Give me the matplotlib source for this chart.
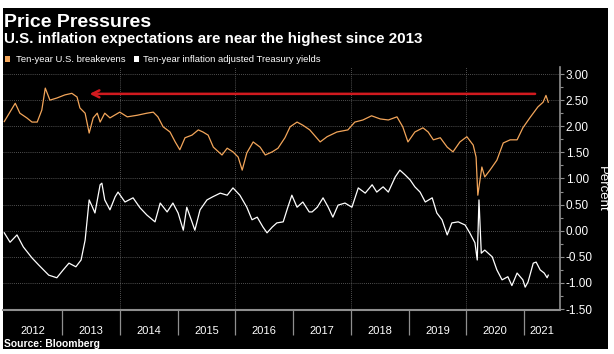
import matplotlib
matplotlib.use("Agg")
import matplotlib.pyplot as plt
from matplotlib.patches import Rectangle
from matplotlib.ticker import MultipleLocator, FixedLocator, NullFormatter
import matplotlib.transforms as mtransforms

plt.rcParams['font.family'] = ['Liberation Sans', 'DejaVu Sans']

# Ten-year U.S. breakevens (decimal year, percent)
be_dates = [2012.00, 2012.19, 2012.27, 2012.39, 2012.48, 2012.57, 2012.65, 2012.71, 2012.79, 2012.91,
            2013.05, 2013.17, 2013.26, 2013.31, 2013.40, 2013.47, 2013.54, 2013.61, 2013.66, 2013.74,
            2013.83, 2014.00, 2014.13, 2014.30, 2014.47, 2014.58, 2014.66, 2014.75, 2014.87, 2014.96,
            2015.04, 2015.13, 2015.25, 2015.36, 2015.44, 2015.53, 2015.62, 2015.77, 2015.86, 2015.96,
            2016.05, 2016.12, 2016.20, 2016.31, 2016.43, 2016.52, 2016.64, 2016.74, 2016.86, 2016.95,
            2017.07, 2017.17, 2017.29, 2017.47, 2017.59, 2017.76, 2017.95, 2018.07, 2018.21, 2018.36,
            2018.51, 2018.65, 2018.80, 2018.90, 2018.99, 2019.11, 2019.25, 2019.34, 2019.43, 2019.55,
            2019.67, 2019.77, 2019.89, 2020.01, 2020.12, 2020.17, 2020.20, 2020.27, 2020.32, 2020.41,
            2020.53, 2020.64, 2020.76, 2020.88, 2020.98, 2021.10, 2021.24, 2021.33, 2021.38, 2021.42]
be_vals = [2.09, 2.44, 2.25, 2.16, 2.08, 2.08, 2.31, 2.73, 2.50, 2.54,
           2.60, 2.63, 2.56, 2.35, 2.25, 1.87, 2.16, 2.25, 2.08, 2.25,
           2.16, 2.27, 2.18, 2.21, 2.25, 2.27, 2.18, 1.99, 1.89, 1.70,
           1.55, 1.78, 1.83, 1.93, 1.89, 1.83, 1.60, 1.45, 1.58, 1.51,
           1.41, 1.16, 1.49, 1.70, 1.60, 1.45, 1.51, 1.58, 1.78, 1.99,
           2.08, 2.02, 1.93, 1.70, 1.80, 1.89, 1.93, 2.08, 2.12, 2.20,
           2.14, 2.12, 2.18, 1.99, 1.70, 1.89, 1.97, 1.89, 1.74, 1.78,
           1.60, 1.51, 1.70, 1.80, 1.64, 1.41, 0.68, 1.22, 1.03, 1.16,
           1.35, 1.68, 1.74, 1.74, 1.97, 2.16, 2.37, 2.46, 2.59, 2.46]

# Ten-year inflation adjusted Treasury yields
tips_dates = [2012.00, 2012.10, 2012.22, 2012.33, 2012.48, 2012.60, 2012.77, 2012.91, 2013.02, 2013.12,
              2013.24, 2013.33, 2013.40, 2013.47, 2013.52, 2013.57, 2013.66, 2013.69, 2013.74, 2013.83,
              2013.92, 2013.97, 2014.09, 2014.23, 2014.35, 2014.47, 2014.61, 2014.70, 2014.82, 2014.92,
              2015.01, 2015.10, 2015.16, 2015.25, 2015.30, 2015.39, 2015.51, 2015.61, 2015.74, 2015.86,
              2015.96, 2016.08, 2016.20, 2016.29, 2016.38, 2016.48, 2016.55, 2016.64, 2016.72, 2016.83,
              2016.91, 2016.98, 2017.07, 2017.17, 2017.28, 2017.33, 2017.42, 2017.52, 2017.61, 2017.69,
              2017.78, 2017.90, 2018.02, 2018.13, 2018.25, 2018.37, 2018.45, 2018.56, 2018.65, 2018.77,
              2018.85, 2018.94, 2019.03, 2019.11, 2019.20, 2019.29, 2019.41, 2019.49, 2019.58, 2019.67,
              2019.75, 2019.86, 2019.98, 2020.06, 2020.15, 2020.19, 2020.22, 2020.26, 2020.32, 2020.45,
              2020.53, 2020.62, 2020.72, 2020.79, 2020.88, 2020.98, 2021.02, 2021.07, 2021.16, 2021.21,
              2021.28, 2021.35, 2021.40, 2021.42]
tips_vals = [-0.04, -0.22, -0.08, -0.31, -0.52, -0.66, -0.85, -0.90, -0.75, -0.62,
             -0.69, -0.56, -0.18, 0.59, 0.47, 0.34, 0.88, 0.91, 0.59, 0.40,
             0.65, 0.74, 0.55, 0.63, 0.44, 0.30, 0.17, 0.53, 0.36, 0.53,
             0.34, 0.01, 0.45, 0.17, 0.01, 0.40, 0.59, 0.65, 0.72, 0.68,
             0.82, 0.68, 0.45, 0.21, 0.26, 0.07, -0.04, 0.07, 0.15, 0.17,
             0.45, 0.68, 0.45, 0.55, 0.36, 0.36, 0.45, 0.63, 0.45, 0.26,
             0.49, 0.53, 0.45, 0.82, 0.72, 0.88, 0.74, 0.84, 0.74, 1.03,
             1.16, 1.07, 0.97, 0.84, 0.74, 0.55, 0.63, 0.34, 0.21, -0.08,
             0.15, 0.17, 0.11, -0.04, -0.23, -0.56, 0.59, -0.43, -0.37, -0.50,
             -0.75, -0.94, -0.88, -1.05, -0.81, -0.94, -1.08, -0.98, -0.62, -0.60,
             -0.75, -0.81, -0.90, -0.85]

years = list(range(2012, 2022))
arrow_level = 2.62
arrow_start = 2021.24
arrow_end = 2013.43

ORANGE = "#f2a55a"
GRID = "#6b6b6b"
AXIS = "#8f8f8f"

fig = plt.figure(figsize=(6.14, 3.54), dpi=100, facecolor="white")
bg = Rectangle((3 / 614, 1 - 349 / 354), 605 / 614, 341 / 354,
               transform=fig.transFigure, facecolor="black", edgecolor="none", zorder=-10)
fig.patches.append(bg)

ax = fig.add_axes([3 / 614, 1 - 310 / 354, 557 / 614, 243 / 354], zorder=1)
ax.set_facecolor("black")
ax.set_xlim(2011.978, 2021.623)
ax.set_ylim(-1.517, 3.134)

ax.plot(be_dates, be_vals, color=ORANGE, lw=0.9, zorder=3)
ax.plot(tips_dates, tips_vals, color="white", lw=0.9, zorder=3)

ax.annotate("", xy=(arrow_end, arrow_level), xytext=(arrow_start, arrow_level),
            arrowprops=dict(arrowstyle="->,head_length=0.5,head_width=0.25",
                            color="#d11a1f", lw=1.8), zorder=4)

# grid
for v in [-1.0, -0.5, 0.0, 0.5, 1.0, 1.5, 2.0, 2.5, 3.0]:
    ax.axhline(v, color=GRID, lw=0.6, ls=(0, (1, 1.5)), zorder=1)
for yr in [2014, 2016, 2018, 2020]:
    ax.axvline(yr, color=GRID, lw=0.6, ls=(0, (1, 1.5)), zorder=1)

# spines
for s in ["top", "left"]:
    ax.spines[s].set_visible(False)
ax.spines["bottom"].set_color(AXIS)
ax.spines["bottom"].set_linewidth(1.5)
ax.spines["right"].set_color(AXIS)
ax.spines["right"].set_linewidth(1.2)

# y axis on the right
ax.yaxis.tick_right()
ax.yaxis.set_major_locator(MultipleLocator(0.5))
ax.yaxis.set_minor_locator(MultipleLocator(0.25))
ax.yaxis.set_major_formatter(plt.FuncFormatter(lambda v, p: "%.2f" % v))
ax.tick_params(axis="y", which="major", length=3, width=0.8, color=AXIS,
               labelcolor="white", labelsize=8.5, pad=1)
ax.tick_params(axis="y", which="minor", length=2, width=0.8, color=AXIS)
ax.set_ylabel("Percent", color="white", fontsize=9.5, rotation=270, labelpad=11)
ax.yaxis.set_label_position("right")

# x axis: separators at year boundaries, labels centered in each year
ax.xaxis.set_major_locator(FixedLocator(years[1:]))
ax.xaxis.set_major_formatter(NullFormatter())
ax.tick_params(axis="x", which="major", length=18, width=0.9, color=AXIS)
ax.tick_params(axis="x", which="minor", length=0)
x0, x1 = ax.get_xlim()
trans = mtransforms.blended_transform_factory(ax.transData, ax.transAxes)
for yr in years:
    lo = max(yr, x0)
    hi = min(yr + 1, x1)
    ax.text((lo + hi) / 2, -0.088, str(yr), transform=trans, ha="center", va="center",
            color="white", fontsize=8)

# titles and legend
fig.text(4 / 614, 1 - 27 / 354, "Price Pressures", color="white", fontsize=14,
         fontweight="bold", va="baseline")
fig.text(4 / 614, 1 - 43 / 354, "U.S. inflation expectations are near the highest since 2013",
         color="white", fontsize=10.9, fontweight="bold", va="baseline")
fig.patches.append(Rectangle((5 / 614, 1 - 62 / 354), 5 / 614, 6 / 354,
                             transform=fig.transFigure, facecolor=ORANGE, edgecolor="none"))
fig.text(16 / 614, 1 - 62 / 354, "Ten-year U.S. breakevens", color="white",
         fontsize=6.8, va="baseline")
fig.patches.append(Rectangle((134 / 614, 1 - 62 / 354), 5 / 614, 6 / 354,
                             transform=fig.transFigure, facecolor="white", edgecolor="none"))
fig.text(143 / 614, 1 - 62 / 354, "Ten-year inflation adjusted Treasury yields", color="white",
         fontsize=6.8, va="baseline")
fig.text(4 / 614, 1 - 347 / 354, "Source: Bloomberg", color="white", fontsize=7.4,
         fontweight="bold", va="baseline")

fig.savefig("out.png", dpi=100, facecolor=fig.get_facecolor())
